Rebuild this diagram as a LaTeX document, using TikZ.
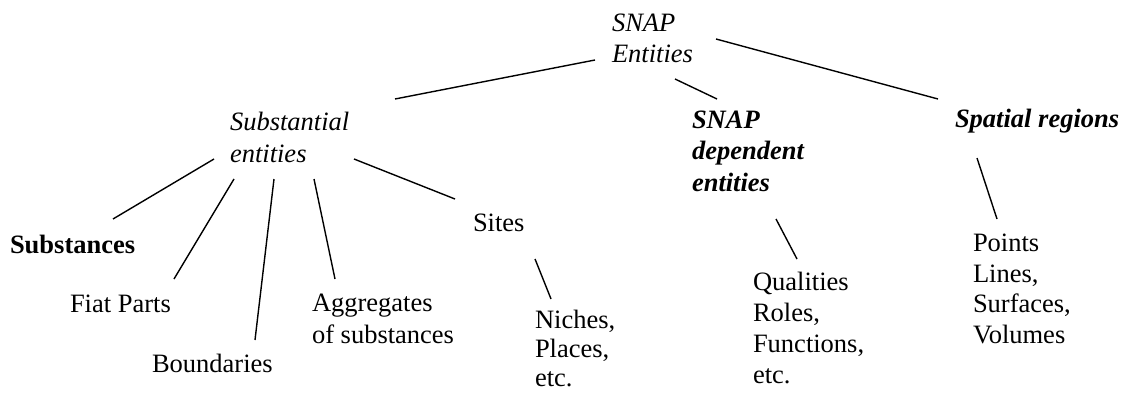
\documentclass[tikz,border=0pt]{standalone}
\usepackage{fontspec}
\setmainfont{Liberation Serif}
\begin{document}
\begin{tikzpicture}[x=1pt,y=-1pt,
  lab/.style={inner sep=0pt,outer sep=0pt,align=left,anchor=base west,
    font=\fontsize{26.5}{#1}\selectfont},
  lab/.default=31,
  conn/.style={line width=1.4pt,black}]
\useasboundingbox (0,0) rectangle (1125,396);
% nodes (placed at the baseline of their last line)
\node[lab] (snap) at (612,63) {\itshape SNAP\\\itshape Entities};
\node[lab=32] (subst) at (230,162) {\itshape Substantial\\\itshape entities};
\node[lab=31.5] (dep) at (692,191) {\bfseries\itshape SNAP\\\bfseries\itshape dependent\\\bfseries\itshape entities};
\node[lab] (spatial) at (955,128) {\bfseries\itshape Spatial regions};
\node[lab] (substances) at (10,253) {\bfseries Substances};
\node[lab] (fiat) at (70,312) {Fiat Parts};
\node[lab] (bound) at (152,372) {Boundaries};
\node[lab=32] (aggr) at (312,343) {Aggregates\\of substances};
\node[lab] (sites) at (473,231) {Sites};
\node[lab=29] (niches) at (535,386) {Niches,\\Places,\\etc.};
\node[lab] (qual) at (753,383) {Qualities\\Roles,\\Functions,\\etc.};
\node[lab=30.5] (points) at (973,343) {Points\\Lines,\\Surfaces,\\Volumes};
% connectors
\draw[conn] ([shift={(-17,-3)}]snap.base west) -- ([shift={(165,-63)}]subst.base west);
\draw[conn] ([shift={(63,16)}]snap.base west) -- ([shift={(25,-92)}]dep.base west);
\draw[conn] ([shift={(104,-24)}]snap.base west) -- ([shift={(-17,-29)}]spatial.base west);
\draw[conn] ([shift={(22,30)}]spatial.base west) -- ([shift={(24,-124)}]points.base west);
\draw[conn] ([shift={(84,28)}]dep.base west) -- ([shift={(44,-124)}]qual.base west);
\draw[conn] ([shift={(-16,-3)}]subst.base west) -- ([shift={(103,-34)}]substances.base west);
\draw[conn] ([shift={(4,17)}]subst.base west) -- ([shift={(104,-33)}]fiat.base west);
\draw[conn] ([shift={(44,17)}]subst.base west) -- ([shift={(103,-32)}]bound.base west);
\draw[conn] ([shift={(84,17)}]subst.base west) -- ([shift={(23,-64)}]aggr.base west);
\draw[conn] ([shift={(124,-3)}]subst.base west) -- ([shift={(-18,-32)}]sites.base west);
\draw[conn] ([shift={(62,28)}]sites.base west) -- ([shift={(16,-87)}]niches.base west);
\end{tikzpicture}
\end{document}
